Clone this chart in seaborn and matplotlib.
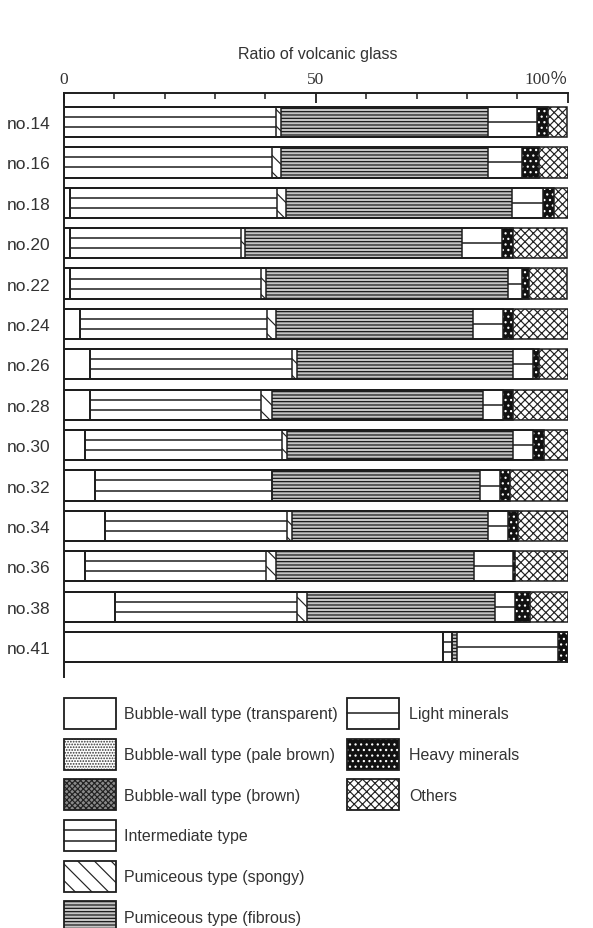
import numpy as np
import pandas as pd
import matplotlib
matplotlib.use("Agg")
import matplotlib.pyplot as plt
import seaborn as sns
from matplotlib.legend_handler import HandlerBase
from matplotlib.patches import Rectangle, Patch
from matplotlib.lines import Line2D
from matplotlib.ticker import MultipleLocator

# ---------------- data ----------------
samples = ["no.14", "no.16", "no.18", "no.20", "no.22", "no.24", "no.26",
           "no.28", "no.30", "no.32", "no.34", "no.36", "no.38", "no.41"]

components = ["Bubble-wall type (transparent)", "Bubble-wall type (pale brown)",
              "Bubble-wall type (brown)", "Intermediate type",
              "Pumiceous type (spongy)", "Pumiceous type (fibrous)",
              "Light minerals", "Heavy minerals", "Others"]

transparent  = [0.0, 0.0, 1.1, 1.1, 1.1, 3.1, 5.1, 5.1, 4.1, 6.1, 8.1, 4.1, 10.1, 75.2]
pale_brown   = [0.0] * 14
brown        = [0.0] * 14
intermediate = [42.1, 41.2, 41.1, 34.1, 38.1, 37.2, 40.1, 34.1, 39.1, 35.1, 36.1, 36.1, 36.1, 1.9]
spongy       = [0.9, 1.8, 1.9, 0.8, 1.0, 1.7, 1.0, 2.0, 1.0, 0.0, 1.0, 1.9, 2.0, 0.0]
fibrous      = [41.1, 41.1, 44.9, 43.1, 48.0, 39.2, 42.9, 42.0, 44.9, 41.3, 39.0, 39.2, 37.3, 0.9]
light        = [9.9, 6.9, 6.0, 7.9, 2.8, 6.0, 4.1, 4.0, 4.0, 4.0, 4.0, 7.8, 4.0, 20.1]
heavy        = [2.0, 3.3, 2.3, 2.1, 1.3, 2.0, 1.1, 2.0, 2.2, 2.0, 2.0, 0.5, 3.1, 1.9]
others       = [3.9, 5.7, 2.7, 10.8, 7.6, 10.8, 5.7, 10.8, 4.7, 11.5, 9.8, 10.4, 7.4, 0.0]

tick_values = [0, 50, 100]
tick_labels = ["0", "50", "100％"]

# ---------------- styles ----------------
STYLE = {
    "Bubble-wall type (transparent)": dict(face="white", hc="black", hatch=None, stripes=1),
    "Bubble-wall type (pale brown)":  dict(face="white", hc="#333333", hatch="......", stripes=1),
    "Bubble-wall type (brown)":       dict(face="#8a8a8a", hc="#222222", hatch="xxxxxx", stripes=1),
    "Intermediate type":              dict(face="white", hc="black", hatch=None, stripes=3),
    "Pumiceous type (spongy)":        dict(face="white", hc="#222222", hatch="\\\\", stripes=1),
    "Pumiceous type (fibrous)":       dict(face="#c4c4c4", hc="#111111", hatch="-----", stripes=1),
    "Light minerals":                 dict(face="white", hc="black", hatch=None, stripes=2),
    "Heavy minerals":                 dict(face="#111111", hc="white", hatch="...", stripes=1),
    "Others":                         dict(face="white", hc="#222222", hatch="xxxx", stripes=1),
}

sns.set_style("white")
plt.rcParams["font.family"] = ["Liberation Sans", "DejaVu Sans"]
plt.rcParams["hatch.linewidth"] = 0.85
TXT = "#333333"
LINE = "#1e1e1e"

W, H = 593, 929
fig = plt.figure(figsize=(W / 100, H / 100), dpi=100)
x0, x1 = 64, 567.7
ytop, ybot = 93.5, 678
ax = fig.add_axes([x0 / W, 1 - ybot / H, (x1 - x0) / W, (ybot - ytop) / H])

values = np.array([transparent, pale_brown, brown, intermediate, spongy,
                   fibrous, light, heavy, others])
cum = np.cumsum(values, axis=0)
left = cum - values
BAR_H = 0.75

# filled layers (largest cumulative first, overlapping)
for k in reversed(range(len(components))):
    st = STYLE[components[k]]
    df = pd.DataFrame({"sample": samples, "cum": cum[k]})
    sns.barplot(data=df, x="cum", y="sample", orient="y", width=BAR_H,
                errorbar=None, facecolor=st["face"], edgecolor=st["hc"],
                hatch=st["hatch"], linewidth=0, ax=ax)

# outlines of each segment boundary
for k in range(len(components)):
    df = pd.DataFrame({"sample": samples, "cum": cum[k]})
    sns.barplot(data=df, x="cum", y="sample", orient="y", width=BAR_H,
                errorbar=None, facecolor="none", edgecolor=LINE,
                linewidth=1.1, ax=ax)

# internal stripes for intermediate (3 bands) and light minerals (2 bands)
ys = np.arange(len(samples))
for k in range(len(components)):
    n = STYLE[components[k]]["stripes"]
    if n < 2:
        continue
    m = values[k] > 0
    for j in range(1, n):
        yy = ys[m] - BAR_H / 2 + j * BAR_H / n
        ax.hlines(yy, left[k][m], cum[k][m], color=LINE, lw=1.1)

ax.set_xlim(0, 100)
ax.set_ylim(len(samples) - 1 + 0.74, -0.73)
ax.set_xlabel("")
ax.set_ylabel("")

for s in ["right", "bottom"]:
    ax.spines[s].set_visible(False)
for s in ["top", "left"]:
    ax.spines[s].set_linewidth(1.4)
    ax.spines[s].set_color(LINE)

ax.xaxis.tick_top()
ax.set_xticks(tick_values)
ax.set_xticklabels(tick_labels, fontfamily=["Liberation Serif", "Noto Sans CJK JP"],
                   fontsize=12.5, color=TXT)
ax.xaxis.set_minor_locator(MultipleLocator(10))
ax.tick_params(axis="x", which="major", direction="in", length=7, width=1.3,
               color=LINE, pad=4, top=True, bottom=False)
ax.tick_params(axis="x", which="minor", direction="in", length=4, width=1.1,
               color=LINE, top=True, bottom=False)
ax.get_xticklabels()[-1].set_horizontalalignment("right")
ax.tick_params(axis="y", length=0, pad=10, labelsize=12.5, labelcolor=TXT)

fig.text(318 / W, 1 - 54 / H, "Ratio of volcanic glass", ha="center", va="center",
         fontsize=11.5, color=TXT)


# ---------------- legend ----------------
class Swatch(HandlerBase):
    def __init__(self, st):
        super().__init__()
        self.st = st

    def create_artists(self, legend, orig_handle, xdescent, ydescent, width,
                       height, fontsize, trans):
        st = self.st
        px, py = -xdescent, -ydescent
        arts = [Rectangle((px, py), width, height, facecolor=st["face"],
                          edgecolor=st["hc"], hatch=st["hatch"], lw=0,
                          transform=trans)]
        n = st["stripes"]
        for j in range(1, n):
            yy = py + j * height / n
            arts.append(Line2D([px, px + width], [yy, yy], color=LINE, lw=1.1,
                               transform=trans))
        arts.append(Rectangle((px, py), width, height, fill=False,
                              edgecolor=LINE, lw=1.3, transform=trans))
        return arts


handles = [Patch(label=c) for c in components]
hmap = {h: Swatch(STYLE[c]) for h, c in zip(handles, components)}
fs = 11.5
common = dict(loc="upper left", frameon=False, borderpad=0, borderaxespad=0,
              fontsize=fs, handlelength=52 / 16, handleheight=2.6,
              labelspacing=0.61, labelcolor=TXT)
leg1 = fig.legend(handles[:6], components[:6], handler_map=hmap,
                  bbox_to_anchor=(64 / W, 1 - 699 / H), handletextpad=0.5, **common)
leg2 = fig.legend(handles[6:], components[6:], handler_map=hmap,
                  bbox_to_anchor=(347 / W, 1 - 699 / H), handletextpad=0.62, **common)

fig.savefig("out.png", dpi=100)
